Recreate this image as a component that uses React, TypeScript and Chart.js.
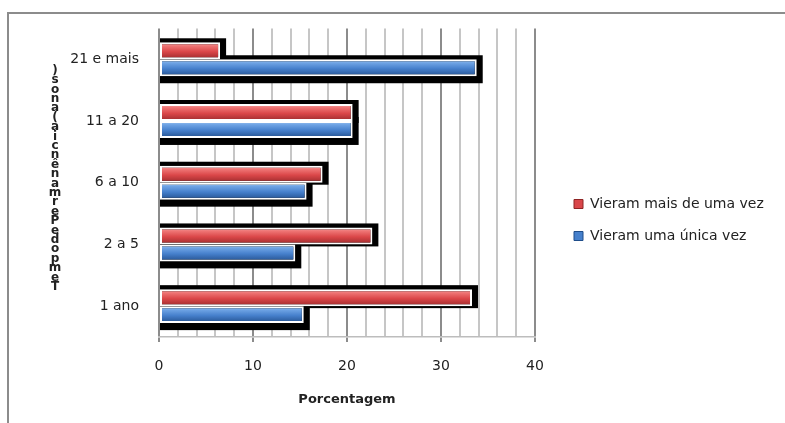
import { useEffect, useRef } from "react";
import { Chart, registerables } from "chart.js";

Chart.register(...registerables);

// Tempo de permanência, de cima para baixo no eixo
const categories = ["21 e mais", "11 a 20", "6 a 10", "2 a 5", "1 ano"];
// Porcentagem de quem veio mais de uma vez
const maisDeUmaVez = [6.5, 20.6, 17.4, 22.7, 33.3];
// Porcentagem de quem veio uma única vez
const umaUnicaVez = [33.8, 20.6, 15.7, 14.5, 15.4];
const seriesNames = ["Vieram mais de uma vez", "Vieram uma única vez"];
const labeledTicks = [0, 10, 20, 30, 40];
const xTitle = "Porcentagem";
const yTitle = "Tempo de Permanência (anos)";

const FONT = "'DejaVu Sans', sans-serif";
const TEXT = "#222222";
const W = 785;
const H = 423;

const solidColors = ["#d9464a", "#4680cc"];
const edgeColors = ["#8e2424", "#1f4d8a"];
const gradientStops: [number, string][][] = [
  [
    [0, "#f6a3a3"],
    [0.22, "#ee7474"],
    [0.55, "#db4749"],
    [1, "#9b2a2c"],
  ],
  [
    [0, "#a5c9f2"],
    [0.22, "#6ea3e4"],
    [0.55, "#4680cc"],
    [1, "#23508e"],
  ],
];
// extra shadow depth below each series' bars
const shadowBelow = [2, 7];

const isMajor = (c: any) => c.tick && c.tick.value % 10 === 0;

// black drop shadows behind the bars and a cylinder-like gradient on each bar
const barEffects = {
  id: "barEffects",
  beforeDatasetsDraw(chart: any) {
    const ctx = chart.ctx as CanvasRenderingContext2D;
    ctx.save();
    ctx.fillStyle = "#000000";
    chart.data.datasets.forEach((_ds: any, di: number) => {
      const meta = chart.getDatasetMeta(di);
      meta.data.forEach((el: any) => {
        const { x, y, base, height } = el.getProps(["x", "y", "base", "height"], true);
        const top = y - height / 2 - 4;
        const bottom = y + height / 2 + shadowBelow[di];
        ctx.fillRect(base, top, x + 6 - base, bottom - top);
      });
    });
    ctx.restore();
    chart.data.datasets.forEach((_ds: any, di: number) => {
      const meta = chart.getDatasetMeta(di);
      meta.data.forEach((el: any) => {
        const { y, height } = el.getProps(["y", "height"], true);
        const g = ctx.createLinearGradient(0, y - height / 2, 0, y + height / 2);
        gradientStops[di].forEach(([o, c]) => g.addColorStop(o, c));
        el.options = { ...el.options, backgroundColor: g };
      });
    });
  },
};

// vertical axis title, written as upright letters stacked from the bottom up
const stackedYTitle = {
  id: "stackedYTitle",
  afterDraw(chart: any) {
    const { ctx, chartArea } = chart;
    const chars = Array.from(yTitle).filter((c) => c !== " ");
    const step = 9.4;
    const mid = (chartArea.top + chartArea.bottom) / 2 - 4;
    const bottomY = mid + ((chars.length - 1) * step) / 2;
    ctx.save();
    ctx.font = `bold 12px ${FONT}`;
    ctx.fillStyle = TEXT;
    ctx.textAlign = "center";
    ctx.textBaseline = "middle";
    chars.forEach((ch, i) => ctx.fillText(ch, 55, bottomY - i * step));
    ctx.restore();
  },
};

export default function App() {
  const canvasRef = useRef<HTMLCanvasElement>(null);

  useEffect(() => {
    const canvas = canvasRef.current;
    if (!canvas) return;

    // room on the right so that the legend sits beside the plot
    const m = canvas.getContext("2d")!;
    m.font = `14px ${FONT}`;
    const textW = Math.max(...seriesNames.map((s) => m.measureText(s).width));
    const legendPad = 18;
    const boxW = 9;
    const legendWidth = legendPad + boxW + 7 + textW + 10;
    const rightPad = W - 556 - legendWidth;

    const chart = new Chart(canvas, {
      type: "bar",
      data: {
        labels: categories,
        datasets: [
          {
            label: seriesNames[0],
            data: maisDeUmaVez,
            backgroundColor: solidColors[0],
            borderColor: "#ffffff",
            borderWidth: 2,
            borderSkipped: false,
            categoryPercentage: 0.55,
            barPercentage: 1,
          },
          {
            label: seriesNames[1],
            data: umaUnicaVez,
            backgroundColor: solidColors[1],
            borderColor: "#ffffff",
            borderWidth: 2,
            borderSkipped: false,
            categoryPercentage: 0.55,
            barPercentage: 1,
          },
        ],
      },
      options: {
        indexAxis: "y",
        animation: false,
        responsive: false,
        devicePixelRatio: 1,
        layout: { padding: { top: 28, bottom: 11, left: 0, right: rightPad } },
        scales: {
          x: {
            type: "linear",
            position: "bottom",
            min: 0,
            max: 40,
            afterFit: (s: any) => {
              s.height = 75;
            },
            ticks: {
              stepSize: 2,
              autoSkip: false,
              maxRotation: 0,
              padding: 16,
              color: TEXT,
              font: { family: FONT, size: 14 },
              callback: (v: any) => (labeledTicks.includes(Number(v)) ? String(v) : ""),
            },
            grid: {
              color: (c: any) => (isMajor(c) ? "#8c8c8c" : "#c6c6c6"),
              lineWidth: 2,
              tickLength: 5,
              tickWidth: 2,
              tickColor: (c: any) => (isMajor(c) ? "#8c8c8c" : "rgba(0,0,0,0)"),
            },
            border: { display: true, color: "#bdbdbd", width: 1.5 },
            title: {
              display: true,
              text: xTitle,
              color: TEXT,
              font: { family: FONT, size: 13, weight: "bold" },
              padding: { top: 0, bottom: 5 },
            },
          },
          y: {
            type: "category",
            position: "left",
            afterFit: (s: any) => {
              s.width = 159;
            },
            grid: { display: false, drawTicks: false },
            border: { display: false },
            ticks: { padding: 20, color: TEXT, font: { family: FONT, size: 14 } },
          },
          gap: {
            type: "linear",
            position: "right",
            display: true,
            afterFit: (s: any) => {
              s.width = 21;
            },
            grid: { display: false, drawTicks: false },
            border: { display: false },
            ticks: { display: false },
          },
        },
        plugins: {
          legend: {
            display: true,
            position: "right",
            align: "center",
            maxWidth: 400,
            labels: {
              boxWidth: boxW,
              boxHeight: 9,
              padding: legendPad,
              color: TEXT,
              font: { family: FONT, size: 14 },
              generateLabels: (ch: any) =>
                Chart.defaults.plugins.legend.labels
                  .generateLabels(ch)
                  .map((item: any, i: number) => ({
                    ...item,
                    fillStyle: solidColors[i],
                    strokeStyle: edgeColors[i],
                    lineWidth: 1,
                  })),
            },
          },
          tooltip: { enabled: false },
        },
      },
      plugins: [barEffects, stackedYTitle],
    } as any);

    return () => chart.destroy();
  }, []);

  return (
    <div
      style={{
        position: "fixed",
        left: 0,
        top: 0,
        width: W,
        height: H,
        overflow: "hidden",
        background: "#ffffff",
      }}
    >
      <div
        style={{
          position: "absolute",
          left: 7,
          top: 12,
          width: W,
          height: H,
          border: "2px solid #8c8c8c",
        }}
      />
      <canvas
        ref={canvasRef}
        width={W}
        height={H}
        style={{ position: "absolute", left: 0, top: 0 }}
      />
    </div>
  );
}
